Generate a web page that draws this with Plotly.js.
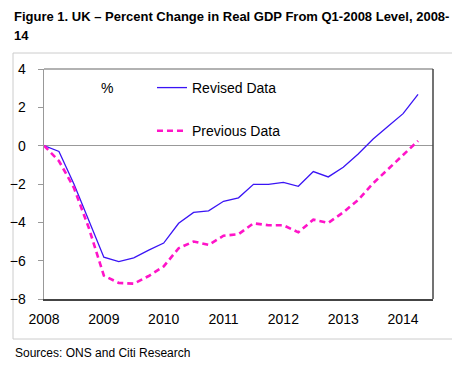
<!DOCTYPE html>
<html>
<head>
<meta charset="utf-8">
<script src="https://cdn.plot.ly/plotly-3.0.1.min.js"></script>
<style>html,body{margin:0;padding:0;background:#fff;}#chart{width:452px;height:365px;}</style>
</head>
<body>
<div id="chart"></div>
<script>
// Quarterly, Q1-2008 .. Q2-2014
const quarters = [2008.0,2008.25,2008.5,2008.75,2009.0,2009.25,2009.5,2009.75,2010.0,2010.25,2010.5,2010.75,2011.0,2011.25,2011.5,2011.75,2012.0,2012.25,2012.5,2012.75,2013.0,2013.25,2013.5,2013.75,2014.0,2014.25];
const revisedData = [0,-0.3,-2.0,-3.9,-5.82,-6.05,-5.85,-5.45,-5.08,-4.05,-3.48,-3.4,-2.9,-2.72,-2.02,-2.02,-1.92,-2.12,-1.35,-1.63,-1.13,-0.43,0.35,1.01,1.67,2.68];
const previousData = [0,-0.8,-2.2,-4.3,-6.78,-7.16,-7.2,-6.8,-6.3,-5.35,-5.0,-5.18,-4.7,-4.62,-4.05,-4.15,-4.15,-4.52,-3.86,-4.03,-3.48,-2.83,-1.96,-1.25,-0.49,0.25];
const yearTicks = [2008,2009,2010,2011,2012,2013,2014];
const yearLabels = ['2008','2009','2010','2011','2012','2013','2014'];
const seriesNames = ['Revised Data','Previous Data'];
const titleLines = ['Figure 1. UK – Percent Change in Real GDP From Q1-2008 Level, 2008-', '14'];

const FONT = 'Liberation Sans, Arial, Helvetica, sans-serif';

const traces = [
  {x: quarters, y: revisedData, name: seriesNames[0], type: 'scatter', mode: 'lines',
   line: {color: '#3a14f5', width: 1.3}, legendgroup: 'a'},
  {x: quarters, y: previousData, name: seriesNames[1], type: 'scatter', mode: 'lines',
   line: {color: '#ff14c8', width: 2.6, dash: '6px,4px'}, legendgroup: 'b'}
];

const layout = {
  width: 452, height: 365,
  margin: {l: 44, r: 19, t: 69, b: 66},
  paper_bgcolor: '#fff', plot_bgcolor: '#fff',
  font: {family: FONT, size: 14, color: '#000'},
  showlegend: true,
  legend: {
    x: 0.2776, xanchor: 'left', y: 0.987, yanchor: 'top',
    bgcolor: 'rgba(0,0,0,0)', borderwidth: 0,
    traceorder: 'grouped', tracegroupgap: 22,
    font: {family: FONT, size: 14, color: '#000'}
  },
  xaxis: {
    range: [2008, 2014.5], tickvals: yearTicks, ticktext: yearLabels,
    showgrid: false, zeroline: false, ticks: '',
    showline: true, linecolor: '#444', linewidth: 1.5,
    ticklabelstandoff: 7,
    tickfont: {family: FONT, size: 14, color: '#000'}, fixedrange: true
  },
  yaxis: {
    range: [-8, 4], dtick: 2, tick0: 0, showgrid: false,
    zeroline: true, zerolinecolor: '#999', zerolinewidth: 1,
    ticks: 'outside', ticklen: 5, tickcolor: '#999', tickwidth: 1,
    showline: true, linecolor: '#999', linewidth: 1.5,
    ticklabelstandoff: 9,
    tickfont: {family: FONT, size: 14, color: '#000'}, fixedrange: true
  },
  shapes: [
    {type: 'line', xref: 'paper', yref: 'paper', x0: 0, x1: 1, y0: 1, y1: 1, line: {color: '#999', width: 1.5}},
    {type: 'line', xref: 'paper', yref: 'paper', x0: 1, x1: 1, y0: 0, y1: 1, line: {color: '#444', width: 1.5}},
    {type: 'rect', xref: 'paper', yref: 'paper', x0: (13-44)/389, x1: 1.12, y0: -40/230, y1: 246/230, line: {color: '#ccc', width: 1}, layer: 'below'}
  ],
  annotations: [
    {text: '<b>' + titleLines[0] + '</b>',
     xref: 'paper', yref: 'paper', x: (12-44)/389, y: (299-17)/230, showarrow: false,
     xanchor: 'left', yanchor: 'middle', align: 'left',
     font: {family: FONT, size: 13, color: '#000'}},
    {text: '<b>' + titleLines[1] + '</b>',
     xref: 'paper', yref: 'paper', x: (12-44)/389, y: (299-36)/230, showarrow: false,
     xanchor: 'left', yanchor: 'middle', align: 'left',
     font: {family: FONT, size: 13, color: '#000'}},
    {text: '%', xref: 'paper', yref: 'paper', x: (107-44)/389, y: (299-88)/230, showarrow: false,
     xanchor: 'center', yanchor: 'middle', font: {family: FONT, size: 14, color: '#000'}},
    {text: 'Sources: ONS and Citi Research', xref: 'paper', yref: 'paper', x: (13-44)/389, y: -(353-299)/230,
     showarrow: false, xanchor: 'left', yanchor: 'middle', font: {family: FONT, size: 12, color: '#000'}}
  ]
};

Plotly.newPlot('chart', traces, layout, {displayModeBar: false, staticPlot: true});
</script>
</body>
</html>
